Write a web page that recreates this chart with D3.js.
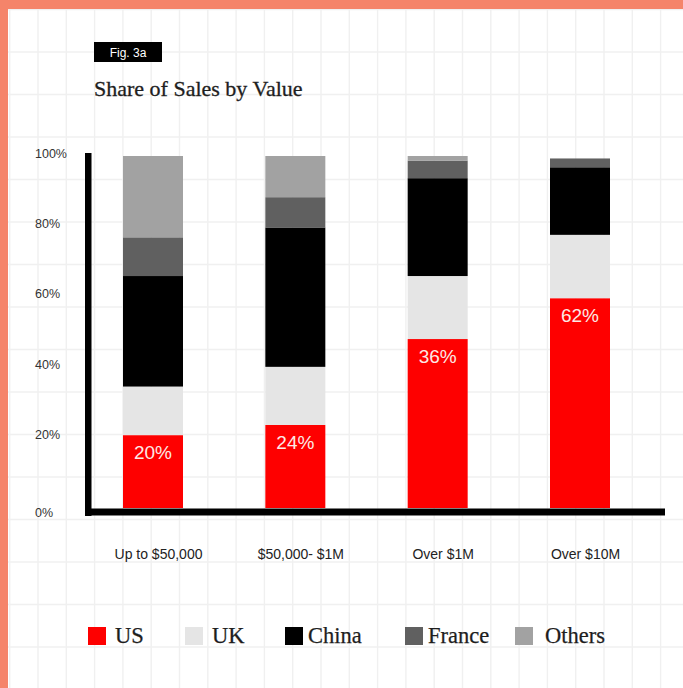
<!DOCTYPE html>
<html>
<head>
<meta charset="utf-8">
<script src="https://cdn.jsdelivr.net/npm/d3@7"></script>
<style>
  html, body { margin: 0; padding: 0; background: #fff; }
  svg { display: block; }
</style>
</head>
<body>
<svg id="chart" width="683" height="688"></svg>
<script>
// ---- data ----
const categories = ["Up to $50,000", "$50,000- $1M", "Over $1M", "Over $10M"];
const seriesNames = ["US", "UK", "China", "France", "Others"];
const usValues     = [20.7, 23.6, 48.0, 59.6];
const ukValues     = [13.8, 16.5, 17.9, 18.0];
const chinaValues  = [31.4, 39.6, 27.8, 19.2];
const franceValues = [11.0, 8.6, 5.0, 2.5];
const othersValues = [23.1, 11.7, 1.3, 0.0];
const usLabels = ["20%", "24%", "36%", "62%"];
const yTicks = [0, 20, 40, 60, 80, 100];
const title = "Share of Sales by Value";
const figLabel = "Fig. 3a";

// ---- styles / layout ----
const colors = { US: "#fe0000", UK: "#e5e5e5", China: "#000000", France: "#606060", Others: "#a2a2a2" };
const legendX = [88, 185, 285, 405, 515];

const svg = d3.select("#chart");
const W = 683, H = 688;

// background grid
const grid = svg.append("g");
d3.range(9.7, W, 28.3).forEach(x => {
  grid.append("line").attr("x1", x).attr("x2", x).attr("y1", 0).attr("y2", H)
    .attr("stroke", "#f0f0f0").attr("stroke-width", 1.4);
});
d3.range(9.5, H, 42.5).forEach(y => {
  grid.append("line").attr("x1", 0).attr("x2", W).attr("y1", y).attr("y2", y)
    .attr("stroke", "#f0f0f0").attr("stroke-width", 1.4);
});

// salmon frame
svg.append("rect").attr("x", 0).attr("y", 0).attr("width", W).attr("height", 9).attr("fill", "#f5846a");
svg.append("rect").attr("x", 0).attr("y", 0).attr("width", 8).attr("height", H).attr("fill", "#f5846a");

// fig label
svg.append("rect").attr("x", 94).attr("y", 42).attr("width", 68).attr("height", 20).attr("fill", "#000");
svg.append("text").attr("x", 128).attr("y", 56.5).attr("text-anchor", "middle")
  .attr("font-family", "'Liberation Sans', Arial, sans-serif").attr("font-size", 12)
  .attr("fill", "#fff").text(figLabel);

// title
svg.append("text").attr("x", 94).attr("y", 96)
  .attr("font-family", "'Liberation Serif', 'Times New Roman', serif").attr("font-size", 22)
  .attr("fill", "#1e1e1e").attr("stroke", "#1e1e1e").attr("stroke-width", 0.3).text(title);

// scales
const x = d3.scalePoint().domain(categories).range([153, 580]);
const y = d3.scaleLinear().domain([0, 100]).range([508, 156]);
const barW = 60;

// stacked data
const rows = categories.map((c, i) => ({
  cat: c, US: usValues[i], UK: ukValues[i], China: chinaValues[i], France: franceValues[i], Others: othersValues[i]
}));
const stack = d3.stack().keys(seriesNames)(rows);

svg.append("g").selectAll("g").data(stack).join("g")
  .attr("fill", d => colors[d.key])
  .selectAll("rect").data(d => d).join("rect")
  .attr("x", d => x(d.data.cat) - barW / 2)
  .attr("width", barW)
  .attr("y", d => y(d[1]))
  .attr("height", d => Math.max(0, y(d[0]) - y(d[1])));

// US labels
svg.append("g").selectAll("text").data(categories).join("text")
  .attr("x", d => x(d))
  .attr("y", (d, i) => y(usValues[i]) + 24)
  .attr("text-anchor", "middle")
  .attr("font-family", "'Liberation Sans', Arial, sans-serif").attr("font-size", 19)
  .attr("fill", "#fde9e5")
  .text((d, i) => usLabels[i]);

// y axis labels
const yAxis = d3.axisLeft(y).tickValues(yTicks).tickFormat(d => d + "%").tickSize(0);
const yg = svg.append("g").attr("transform", "translate(35,0)").call(yAxis);
yg.select(".domain").remove();
yg.selectAll("text")
  .attr("x", 0).attr("dy", "0.32em").attr("y", d => d === 0 ? 4 : -3)
  .attr("text-anchor", "start")
  .attr("font-family", "'Liberation Sans', Arial, sans-serif").attr("font-size", 12.5)
  .attr("fill", "#333");

// x axis labels
const xAxis = d3.axisBottom(x).tickSize(0);
const xg = svg.append("g").attr("transform", "translate(5,545)").call(xAxis);
xg.select(".domain").remove();
xg.selectAll("text")
  .attr("dy", "0.71em").attr("y", 4)
  .attr("font-family", "'Liberation Sans', Arial, sans-serif").attr("font-size", 14)
  .attr("fill", "#222");

// thick axis lines
svg.append("rect").attr("x", 85).attr("y", 153).attr("width", 6.5).attr("height", 363).attr("fill", "#000");
svg.append("rect").attr("x", 85).attr("y", 508.5).attr("width", 580).attr("height", 7).attr("fill", "#000");

// legend
const lg = svg.append("g").selectAll("g").data(seriesNames).join("g")
  .attr("transform", (d, i) => `translate(${legendX[i]},627)`);
lg.append("rect").attr("width", 18).attr("height", 18).attr("fill", d => colors[d]);
lg.append("text").attr("x", (d, i) => i === 4 ? 30 : (i >= 2 ? 23 : 27)).attr("y", 16)
  .attr("font-family", "'Liberation Serif', 'Times New Roman', serif").attr("font-size", 22.5)
  .attr("fill", "#1e1e1e").attr("stroke", "#1e1e1e").attr("stroke-width", 0.25).text(d => d);
</script>
</body>
</html>
